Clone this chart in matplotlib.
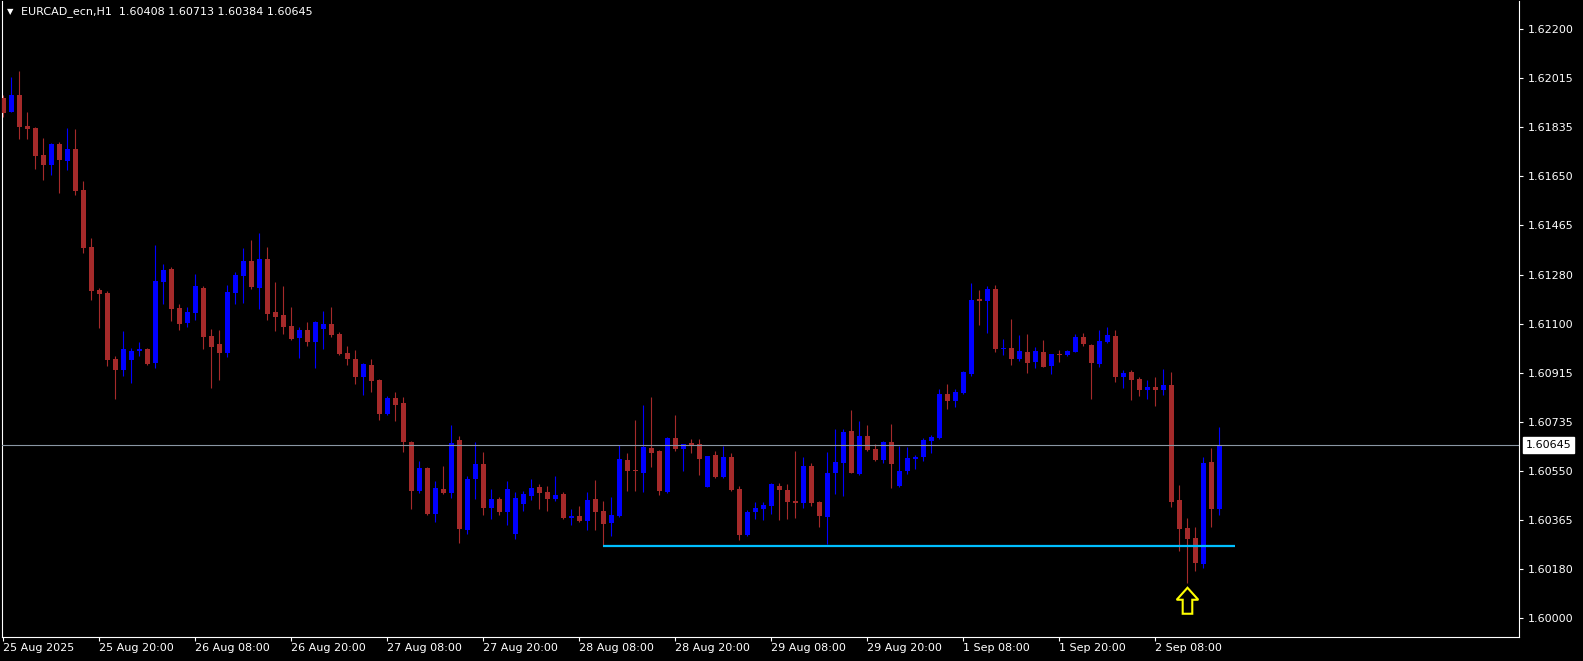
import matplotlib
matplotlib.use("Agg")
import matplotlib.pyplot as plt
import numpy as np
from matplotlib.patches import Polygon

symbol_title = "EURCAD_ecn,H1"

# H1 candles, oldest first
opens = [
    1.61943, 1.61892, 1.61954, 1.61839, 1.61831, 1.61730, 1.61694, 1.61771, 1.61709, 1.61753,
    1.61600, 1.61386, 1.61226, 1.61214, 1.60968, 1.60928, 1.60965, 1.60999, 1.61005, 1.60954,
    1.61255, 1.61304, 1.61158, 1.61103, 1.61141, 1.61233, 1.61053, 1.61024, 1.60991, 1.61215,
    1.61278, 1.61334, 1.61233, 1.61341, 1.61143, 1.61132, 1.61091, 1.61047, 1.61076, 1.61032,
    1.61080, 1.61100, 1.61062, 1.60991, 1.60968, 1.60900, 1.60946, 1.60890, 1.60763, 1.60823,
    1.60804, 1.60658, 1.60475, 1.60561, 1.60389, 1.60483, 1.60468, 1.60665, 1.60329, 1.60517,
    1.60575, 1.60412, 1.60444, 1.60397, 1.60314, 1.60427, 1.60456, 1.60489, 1.60470, 1.60444,
    1.60463, 1.60374, 1.60381, 1.60363, 1.60444, 1.60399, 1.60356, 1.60382, 1.60590, 1.60553,
    1.60543, 1.60635, 1.60624, 1.60472, 1.60673, 1.60632, 1.60654, 1.60650, 1.60490, 1.60609,
    1.60528, 1.60601, 1.60482, 1.60311, 1.60396, 1.60407, 1.60419, 1.60493, 1.60478, 1.60437,
    1.60431, 1.60568, 1.60433, 1.60378, 1.60543, 1.60580, 1.60699, 1.60539, 1.60680, 1.60632,
    1.60591, 1.60657, 1.60494, 1.60550, 1.60594, 1.60601, 1.60661, 1.60672, 1.60837, 1.60811,
    1.60841, 1.60911, 1.61192, 1.61184, 1.61229, 1.61004, 1.61009, 1.60968, 1.60993, 1.60957,
    1.60993, 1.60943, 1.60988, 1.60984, 1.60995, 1.61050, 1.61020, 1.60950, 1.61032, 1.61054,
    1.60901, 1.60919, 1.60893, 1.60853, 1.60863, 1.60853, 1.60870, 1.60441, 1.60336, 1.60299,
    1.60202, 1.60583, 1.60408,
]
highs = [
    1.61955, 1.62023, 1.62044, 1.61891, 1.61835, 1.61794, 1.61775, 1.61779, 1.61831, 1.61827,
    1.61634, 1.61420, 1.61234, 1.61223, 1.60980, 1.61072, 1.61009, 1.61031, 1.61009, 1.61394,
    1.61323, 1.61312, 1.61173, 1.61162, 1.61285, 1.61240, 1.61080, 1.61076, 1.61244, 1.61293,
    1.61383, 1.61413, 1.61439, 1.61386, 1.61255, 1.61240, 1.61162, 1.61088, 1.61106, 1.61110,
    1.61148, 1.61162, 1.61068, 1.61016, 1.61002, 1.60953, 1.60968, 1.60894, 1.60830, 1.60845,
    1.60826, 1.60662, 1.60587, 1.60565, 1.60513, 1.60569, 1.60722, 1.60680, 1.60530, 1.60657,
    1.60620, 1.60482, 1.60451, 1.60513, 1.60470, 1.60474, 1.60519, 1.60500, 1.60493, 1.60530,
    1.60470, 1.60407, 1.60418, 1.60470, 1.60516, 1.60437, 1.60452, 1.60646, 1.60616, 1.60740,
    1.60796, 1.60826, 1.60628, 1.60676, 1.60759, 1.60650, 1.60669, 1.60669, 1.60605, 1.60624,
    1.60643, 1.60616, 1.60493, 1.60403, 1.60433, 1.60433, 1.60504, 1.60504, 1.60500, 1.60624,
    1.60601, 1.60579, 1.60437, 1.60620, 1.60706, 1.60706, 1.60777, 1.60736, 1.60721, 1.60650,
    1.60661, 1.60725, 1.60643, 1.60639, 1.60609, 1.60672, 1.60684, 1.60855, 1.60874, 1.60855,
    1.60922, 1.61252, 1.61226, 1.61240, 1.61244, 1.61043, 1.61117, 1.61057, 1.61061, 1.61012,
    1.61039, 1.60988, 1.61002, 1.61002, 1.61061, 1.61065, 1.61022, 1.61076, 1.61087, 1.61076,
    1.60927, 1.60927, 1.60900, 1.60889, 1.60900, 1.60930, 1.60919, 1.60497, 1.60373, 1.60340,
    1.60601, 1.60635, 1.60713,
]
lows = [
    1.61871, 1.61892, 1.61791, 1.61791, 1.61678, 1.61638, 1.61656, 1.61589, 1.61675, 1.61582,
    1.61365, 1.61189, 1.61084, 1.60943, 1.60818, 1.60905, 1.60879, 1.60980, 1.60946, 1.60935,
    1.61173, 1.61109, 1.61077, 1.61088, 1.61113, 1.61006, 1.60860, 1.60890, 1.60976, 1.61173,
    1.61178, 1.61229, 1.61155, 1.61114, 1.61073, 1.61062, 1.61040, 1.60972, 1.61017, 1.60935,
    1.61006, 1.61051, 1.60984, 1.60945, 1.60875, 1.60834, 1.60845, 1.60741, 1.60759, 1.60737,
    1.60621, 1.60408, 1.60468, 1.60385, 1.60359, 1.60464, 1.60449, 1.60280, 1.60313, 1.60444,
    1.60386, 1.60371, 1.60386, 1.60348, 1.60295, 1.60400, 1.60441, 1.60408, 1.60400, 1.60437,
    1.60370, 1.60348, 1.60359, 1.60329, 1.60329, 1.60270, 1.60307, 1.60378, 1.60475, 1.60475,
    1.60470, 1.60565, 1.60460, 1.60468, 1.60625, 1.60550, 1.60617, 1.60535, 1.60488, 1.60524,
    1.60524, 1.60475, 1.60291, 1.60307, 1.60371, 1.60366, 1.60389, 1.60366, 1.60371, 1.60374,
    1.60412, 1.60419, 1.60341, 1.60276, 1.60464, 1.60457, 1.60540, 1.60535, 1.60625, 1.60587,
    1.60580, 1.60486, 1.60490, 1.60539, 1.60557, 1.60587, 1.60616, 1.60669, 1.60781, 1.60788,
    1.60837, 1.60905, 1.61095, 1.61065, 1.60994, 1.60983, 1.60945, 1.60960, 1.60915, 1.60935,
    1.60936, 1.60913, 1.60957, 1.60980, 1.60993, 1.61017, 1.60819, 1.60939, 1.61029, 1.60883,
    1.60860, 1.60815, 1.60830, 1.60819, 1.60793, 1.60834, 1.60416, 1.60251, 1.60131, 1.60176,
    1.60187, 1.60341, 1.60384,
]
closes = [
    1.61887, 1.61954, 1.61836, 1.61828, 1.61727, 1.61694, 1.61771, 1.61713, 1.61753, 1.61597,
    1.61384, 1.61223, 1.61212, 1.60965, 1.60928, 1.61005, 1.60997, 1.61005, 1.60950, 1.61259,
    1.61301, 1.61156, 1.61100, 1.61143, 1.61240, 1.61051, 1.61014, 1.60991, 1.61218, 1.61282,
    1.61334, 1.61237, 1.61341, 1.61137, 1.61126, 1.61088, 1.61043, 1.61076, 1.61032, 1.61107,
    1.61100, 1.61058, 1.60987, 1.60969, 1.60901, 1.60949, 1.60887, 1.60763, 1.60823, 1.60797,
    1.60658, 1.60475, 1.60561, 1.60389, 1.60487, 1.60468, 1.60654, 1.60333, 1.60518, 1.60575,
    1.60412, 1.60444, 1.60397, 1.60481, 1.60448, 1.60463, 1.60485, 1.60467, 1.60444, 1.60459,
    1.60373, 1.60381, 1.60363, 1.60441, 1.60397, 1.60352, 1.60384, 1.60594, 1.60550, 1.60547,
    1.60639, 1.60617, 1.60475, 1.60673, 1.60632, 1.60649, 1.60646, 1.60595, 1.60605, 1.60528,
    1.60601, 1.60479, 1.60311, 1.60396, 1.60411, 1.60422, 1.60500, 1.60479, 1.60434, 1.60431,
    1.60568, 1.60431, 1.60382, 1.60541, 1.60583, 1.60695, 1.60543, 1.60680, 1.60629, 1.60591,
    1.60657, 1.60576, 1.60549, 1.60598, 1.60601, 1.60665, 1.60676, 1.60837, 1.60811, 1.60844,
    1.60919, 1.61188, 1.61184, 1.61229, 1.61005, 1.61009, 1.60968, 1.60997, 1.60953, 1.60997,
    1.60938, 1.60986, 1.60984, 1.60997, 1.61050, 1.61025, 1.60954, 1.61035, 1.61057, 1.60901,
    1.60915, 1.60890, 1.60853, 1.60863, 1.60853, 1.60870, 1.60434, 1.60333, 1.60296, 1.60206,
    1.60579, 1.60408, 1.60645,
]

time_labels = [
    "25 Aug 2025", "25 Aug 20:00", "26 Aug 08:00", "26 Aug 20:00", "27 Aug 08:00",
    "27 Aug 20:00", "28 Aug 08:00", "28 Aug 20:00", "29 Aug 08:00", "29 Aug 20:00",
    "1 Sep 08:00", "1 Sep 20:00", "2 Sep 08:00",
]
price_labels = [
    "1.62200", "1.62015", "1.61835", "1.61650", "1.61465", "1.61280", "1.61100",
    "1.60915", "1.60735", "1.60550", "1.60365", "1.60180", "1.60000",
]

# horizontal support line drawn on the chart
support_level = 1.60270
support_from_bar = 75
support_to_bar = 154

BULL = "#0000ff"
BEAR = "#a52a2a"

W, H, DPI = 1583, 661, 100
fig = plt.figure(figsize=(W / DPI, H / DPI), dpi=DPI, facecolor="black")
ax = fig.add_axes([2 / W, 24 / H, 1517 / W, 636 / H], facecolor="black")

o = np.array(opens)
h = np.array(highs)
l = np.array(lows)
c = np.array(closes)
x = np.arange(len(o))
colors = np.where(c >= o, BULL, BEAR)

ax.vlines(x, l, h, colors=colors, linewidth=0.8, zorder=2)
body = np.maximum(np.abs(c - o), 0.00002)
ax.bar(x, body, bottom=np.minimum(o, c), width=0.6, color=colors, linewidth=0, zorder=3)

# bid line + price box
bid = closes[-1]
ax.axhline(bid, color="#8a96a3", linewidth=0.8, zorder=4)
ax.annotate(f"{bid:.5f}", xy=(1, bid), xycoords=("axes fraction", "data"),
            xytext=(5, 0), textcoords="offset points", va="center", ha="left",
            fontsize=8, color="black", annotation_clip=False,
            bbox=dict(boxstyle="square,pad=0.25", fc="white", ec="white"))

# support line
ax.hlines(support_level, support_from_bar, support_to_bar, color="#00bfff", linewidth=1.6, zorder=5)

# arrow under the lowest low
ymin, ymax = 1.599282, 1.623058
px = (ymax - ymin) / 636
ib = int(np.argmin(l))
tip = l[ib] - 5 * px
base = tip - 12 * px
bottom = tip - 26 * px
hw, sw = 1.35, 0.6
arrow = Polygon([(ib, tip), (ib + hw, base), (ib + sw, base), (ib + sw, bottom),
                 (ib - sw, bottom), (ib - sw, base), (ib - hw, base)],
                closed=True, fc="black", ec="#ffff00", lw=1.5, zorder=6)
ax.add_patch(arrow)

ax.set_xlim(-0.1875, 189.44)
ax.set_ylim(ymin, ymax)

ax.yaxis.tick_right()
ax.set_yticks(np.linspace(1.622, 1.600, len(price_labels)), price_labels)
ax.set_xticks(np.arange(len(time_labels)) * 12, time_labels)
for lbl in ax.get_xticklabels():
    lbl.set_horizontalalignment("left")
ax.tick_params(axis="both", colors="white", labelsize=8, length=3, width=0.8)
ax.tick_params(axis="x", pad=1.5)
ax.tick_params(axis="y", pad=3)
for side in ["left", "right", "bottom"]:
    ax.spines[side].set_color("white")
    ax.spines[side].set_linewidth(0.8)
ax.spines["top"].set_visible(False)

header = f"{symbol_title}  {opens[-1]:.5f} {highs[-1]:.5f} {lows[-1]:.5f} {closes[-1]:.5f}"
fig.text(7 / W, 1 - 12 / H, "\u25bc", color="white", fontsize=6, va="center", ha="left")
fig.text(21 / W, 1 - 12 / H, header, color="white", fontsize=8, va="center", ha="left")

fig.savefig("out.png", dpi=DPI, facecolor="black")
